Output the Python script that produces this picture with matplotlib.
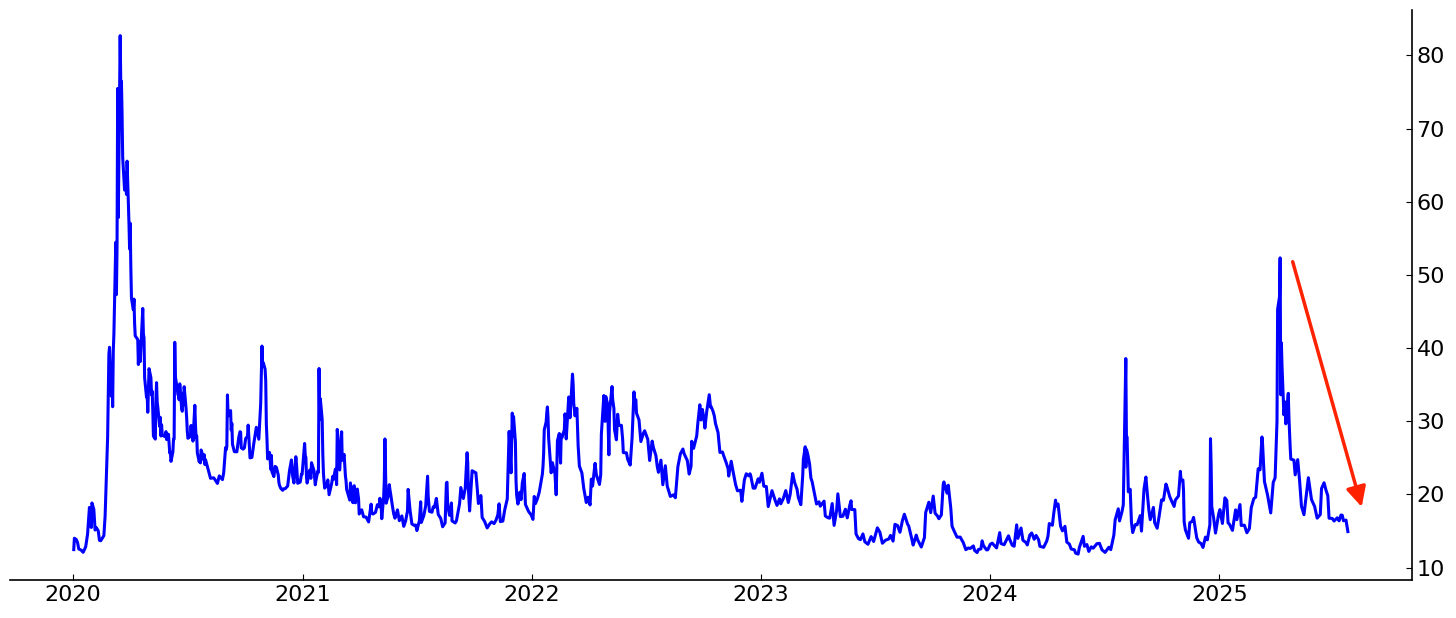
import pandas as pd
import matplotlib
matplotlib.use('Agg')
import matplotlib.pyplot as plt
import matplotlib.dates as mdates

d2020 = ['01-02','01-03','01-06','01-08','01-10','01-14','01-17','01-21','01-24','01-27','01-28','01-30','01-31',
         '02-03','02-05','02-07','02-10','02-12','02-14','02-19','02-21','02-24','02-25','02-27','02-28',
         '03-02','03-03','03-04','03-05','03-06','03-09','03-10','03-11','03-12','03-13','03-16','03-17','03-18',
         '03-19','03-20','03-23','03-24','03-25','03-26','03-27','03-30','03-31','04-01','04-02','04-03','04-06',
         '04-07','04-08','04-09','04-13','04-14','04-15','04-16','04-17','04-20','04-21','04-22','04-23','04-24',
         '04-27','04-28','04-29','04-30','05-01','05-04','05-05','05-06','05-07','05-08','05-11','05-12','05-13',
         '05-14','05-15','05-18','05-19','05-20','05-21','05-22','05-26','05-27','05-28','05-29','06-01','06-02',
         '06-03','06-04','06-05','06-08','06-09','06-10','06-11','06-12','06-15','06-16','06-17','06-18','06-19',
         '06-22','06-23','06-24','06-25','06-26','06-29','06-30','07-01','07-02','07-06','07-07','07-08','07-09',
         '07-10','07-13','07-14','07-15','07-16','07-17','07-20','07-21','07-22','07-23','07-24','07-27','07-28',
         '07-29','07-30','07-31','08-07','08-12','08-14','08-18','08-21','08-26','08-28','08-31','09-01','09-02',
         '09-03','09-04','09-08','09-09','09-10','09-11','09-14','09-18','09-21','09-23','09-24','09-25','09-28',
         '09-30','10-02','10-05','10-06','10-07','10-09','10-12','10-15','10-19','10-23','10-26','10-28','10-29',
         '10-30','11-02','11-03','11-04','11-05','11-06','11-09','11-10','11-11','11-12','11-13','11-16','11-18',
         '11-20','11-23','11-24','11-25','11-27','11-30','12-01','12-04','12-08','12-10','12-11','12-14','12-16',
         '12-18','12-21','12-22','12-24','12-28','12-30','12-31']
v2020 = [12.47,14.02,13.85,13.45,12.56,12.39,12.10,12.85,14.56,18.23,16.28,15.49,18.84,
         17.97,15.15,15.47,15.04,13.74,13.68,14.38,17.08,25.03,27.85,39.16,40.11,
         33.42,36.82,31.99,39.62,41.94,54.46,47.30,53.90,75.47,57.83,82.69,75.91,76.45,
         72.00,66.04,61.59,61.67,63.95,61.00,65.54,57.08,53.54,57.06,50.91,46.80,45.24,
         46.70,43.35,41.67,41.17,37.76,40.84,40.11,38.15,43.83,45.41,41.98,41.38,35.93,
         33.29,33.57,31.23,34.15,37.19,35.97,33.61,34.12,31.44,27.98,27.57,33.04,35.28,
         32.61,31.89,29.30,30.53,27.99,29.53,28.16,27.91,28.01,28.59,27.51,28.23,26.84,
         25.66,25.81,24.52,25.81,27.57,27.57,40.79,36.09,34.40,33.67,33.47,32.94,35.12,
         31.77,31.37,33.84,32.22,34.73,31.78,30.43,28.62,27.68,27.94,29.43,28.08,29.26,
         27.29,32.19,29.52,27.76,28.00,25.68,24.46,24.84,24.32,26.08,25.84,24.74,25.44,
         24.10,24.76,24.46,22.21,22.28,22.05,21.51,22.54,22.03,22.96,26.41,26.12,26.57,
         33.60,30.75,31.46,28.81,29.71,26.87,25.85,25.83,27.78,28.58,28.51,26.38,26.19,
         26.37,27.63,27.96,29.48,28.06,25.00,25.07,26.97,29.18,27.55,32.46,40.28,37.59,
         38.02,37.13,35.55,29.57,27.58,24.86,25.75,24.80,23.45,25.35,23.10,22.45,23.84,
         23.70,22.66,21.64,21.25,20.84,20.57,20.77,20.79,21.16,22.52,23.31,24.72,22.50,
         21.57,25.16,24.23,21.53,21.70,22.77,22.75]

d2021 = ['01-04','01-05','01-06','01-07','01-08','01-12','01-14','01-15','01-19','01-21','01-22','01-25','01-26',
         '01-27','01-28','01-29','02-01','02-02','02-03','02-04','02-05','02-08','02-10','02-12','02-16','02-18',
         '02-19','02-22','02-23','02-24','02-25','02-26','03-01','03-03','03-04','03-05','03-08','03-09','03-10',
         '03-11','03-12','03-15','03-17','03-18','03-19','03-22','03-23','03-24','03-25','03-26','03-29','03-31',
         '04-01','04-05','04-08','04-12','04-16','04-20','04-21','04-23','04-27','04-30','05-03','05-04','05-06',
         '05-07','05-10','05-11','05-12','05-13','05-14','05-17','05-19','05-20','05-21','05-24','05-26','05-28',
         '06-01','06-04','06-08','06-11','06-14','06-17','06-18','06-21','06-24','06-28','06-30','07-02','07-06',
         '07-08','07-09','07-13','07-16','07-19','07-20','07-22','07-26','07-28','07-30','08-02','08-05','08-09',
         '08-12','08-16','08-18','08-19','08-20','08-23','08-26','08-27','09-01','09-03','09-08','09-10','09-14',
         '09-17','09-20','09-21','09-22','09-24','09-28','09-30','10-04','10-06','10-08','10-12','10-14','10-18',
         '10-22','10-26','10-29','11-02','11-05','11-08','11-10','11-12','11-16','11-19','11-23','11-26','11-29',
         '11-30','12-01','12-02','12-03','12-06','12-07','12-08','12-10','12-13','12-15','12-17','12-20','12-22',
         '12-27','12-31']
v2021 = [26.97,25.34,25.07,22.37,21.56,23.33,22.21,24.34,23.24,21.32,21.91,23.19,23.02,
         37.21,30.21,33.09,30.24,25.56,22.91,21.77,20.87,21.24,21.99,19.97,21.46,22.49,
         22.05,23.45,23.11,21.34,28.89,27.95,23.35,26.67,28.57,24.66,25.47,24.03,22.56,
         21.91,20.69,19.79,19.23,21.58,20.95,18.88,20.30,21.20,19.81,18.86,20.74,19.40,
         17.33,17.91,16.95,16.91,16.25,18.68,17.50,17.33,17.56,18.61,18.31,19.48,18.39,
         16.69,19.66,21.84,27.59,23.13,18.81,19.72,21.34,20.67,20.15,18.40,17.36,16.76,
         17.90,16.42,17.07,15.65,16.39,17.75,20.70,17.89,15.97,15.76,15.83,15.07,16.44,
         19.00,16.18,17.12,18.45,22.50,19.73,17.69,17.58,18.31,18.24,19.46,17.28,16.72,
         15.59,16.12,21.57,21.67,18.56,17.15,18.84,16.39,16.11,16.41,18.75,20.95,19.46,
         20.81,25.71,24.36,20.87,17.75,23.25,23.14,22.96,21.00,18.77,19.85,16.86,16.30,
         15.43,15.98,16.26,16.03,16.48,17.22,18.73,16.29,16.37,17.91,19.38,28.62,22.96,
         27.19,31.12,27.95,30.67,27.18,21.89,19.90,18.69,20.31,19.29,21.57,22.87,18.63,
         17.68,17.22]

d2022 = ['01-03','01-05','01-07','01-10','01-13','01-18','01-19','01-20','01-21','01-24','01-25','01-26','01-27',
         '01-28','02-01','02-03','02-07','02-09','02-10','02-11','02-14','02-16','02-17','02-18','02-22','02-23',
         '02-24','02-25','03-01','03-03','03-04','03-07','03-08','03-09','03-11','03-14','03-16','03-18','03-22',
         '03-25','03-29','04-01','04-04','04-06','04-08','04-12','04-14','04-19','04-21','04-22','04-26','04-27',
         '04-28','04-29','05-02','05-04','05-05','05-09','05-10','05-12','05-13','05-16','05-18','05-20','05-24',
         '05-26','05-27','06-01','06-03','06-07','06-10','06-13','06-14','06-16','06-17','06-21','06-24','06-28',
         '06-30','07-05','07-08','07-12','07-14','07-18','07-20','07-22','07-26','07-29','08-02','08-05','08-10',
         '08-15','08-18','08-22','08-26','08-30','09-01','09-06','09-09','09-12','09-13','09-16','09-21','09-23',
         '09-26','09-28','09-30','10-03','10-04','10-07','10-11','10-13','10-14','10-17','10-19','10-21','10-25',
         '10-28','11-01','11-03','11-07','11-10','11-11','11-15','11-18','11-22','11-25','11-30','12-02','12-06',
         '12-09','12-13','12-15','12-16','12-20','12-23','12-28','12-30']
v2022 = [16.60,19.73,18.76,19.40,20.31,22.79,23.85,25.59,28.85,29.90,31.16,31.96,30.49,
         27.66,22.96,24.35,22.86,19.96,23.91,27.36,28.33,24.29,28.11,27.75,28.81,31.02,
         30.32,27.59,33.32,30.48,31.98,36.45,35.13,32.45,30.75,31.77,26.67,23.87,22.94,
         20.81,18.90,19.63,18.57,22.10,21.16,24.26,22.70,21.37,22.68,28.21,33.52,31.60,
         29.99,33.40,32.34,25.42,31.20,34.75,32.99,31.77,28.87,27.47,30.96,29.43,29.45,
         27.50,25.72,25.69,24.79,24.02,27.75,34.02,32.69,32.95,31.13,30.19,27.23,28.36,
         28.71,27.54,24.64,27.29,26.40,25.30,23.88,23.03,24.69,21.33,23.93,21.15,19.74,
         19.95,19.56,23.80,25.56,26.21,25.56,24.64,22.79,23.87,27.27,26.30,27.99,29.92,
         32.26,30.18,31.62,30.10,29.07,31.36,33.63,31.94,32.02,31.37,30.76,29.69,28.46,
         25.75,25.81,25.30,24.35,23.53,22.52,24.54,23.12,21.35,20.50,20.58,19.06,22.00,
         22.83,22.55,22.83,22.62,20.87,20.87,22.14,21.67]

d2023 = ['01-03','01-06','01-10','01-13','01-19','01-24','01-27','01-31','02-02','02-06','02-10','02-14','02-17',
         '02-21','02-24','02-28','03-02','03-06','03-09','03-10','03-13','03-14','03-15','03-17','03-20','03-22',
         '03-24','03-28','03-31','04-04','04-06','04-12','04-14','04-18','04-21','04-25','04-28','05-02','05-04',
         '05-08','05-12','05-16','05-19','05-23','05-25','05-26','05-31','06-02','06-06','06-09','06-13','06-16',
         '06-21','06-26','06-30','07-06','07-10','07-14','07-19','07-24','07-27','07-31','08-03','08-07','08-11',
         '08-15','08-18','08-23','08-25','08-30','09-01','09-06','09-08','09-14','09-19','09-21','09-26','09-29',
         '10-03','10-06','10-10','10-12','10-16','10-19','10-20','10-25','10-27','10-31','11-02','11-06','11-10',
         '11-15','11-20','11-24','11-28','12-01','12-06','12-08','12-12','12-14','12-18','12-20','12-22','12-27',
         '12-29']
v2023 = [22.90,21.13,21.09,18.35,20.52,19.20,18.51,19.40,18.73,19.43,20.53,18.91,20.02,
         22.87,21.67,20.70,19.59,18.61,22.61,24.80,26.52,23.73,26.14,25.51,24.12,22.26,
         21.74,19.97,18.70,19.00,18.40,19.09,17.07,16.83,16.77,18.76,15.78,17.78,20.09,
         16.98,17.03,17.99,16.81,18.53,19.14,17.95,17.94,14.60,13.96,13.83,14.61,13.54,
         13.20,14.25,13.59,15.44,14.84,13.34,13.76,13.91,14.41,13.63,15.92,15.77,14.84,
         16.46,17.30,15.98,15.68,13.88,13.09,14.45,13.84,12.82,14.11,17.54,18.94,17.52,
         19.78,17.45,17.03,16.69,17.21,21.40,21.71,20.19,21.27,18.14,15.66,14.89,14.17,
         14.18,13.41,12.46,12.69,12.63,12.97,12.35,12.07,12.48,12.56,13.67,13.03,12.43,
         12.45]

d2024 = ['01-02','01-05','01-08','01-12','01-17','01-19','01-24','01-31','02-02','02-06','02-09','02-13','02-15',
         '02-20','02-23','02-28','03-01','03-05','03-08','03-12','03-15','03-19','03-21','03-27','04-01','04-03',
         '04-05','04-10','04-12','04-15','04-16','04-19','04-23','04-26','04-30','05-03','05-07','05-10','05-15',
         '05-17','05-21','05-23','05-29','05-31','06-04','06-07','06-11','06-14','06-20','06-24','06-28','07-03','07-09',
         '07-12','07-17','07-19','07-24','07-26','07-30','08-01','08-02','08-05','08-06','08-07','08-08','08-09',
         '08-12','08-14','08-16','08-20','08-23','08-28','08-30','09-03','09-06','09-09','09-11','09-13','09-18',
         '09-20','09-24','09-27','10-01','10-04','10-08','10-10','10-14','10-17','10-21','10-23','10-28','10-31',
         '11-01','11-04','11-05','11-06','11-08','11-13','11-15','11-19','11-21','11-26','11-29','12-03','12-06',
         '12-10','12-13','12-17','12-18','12-19','12-20','12-23','12-26','12-31']
v2024 = [13.20,13.35,13.08,12.70,14.79,13.30,13.14,14.35,13.85,13.06,12.93,15.85,14.01,
         15.42,13.75,13.43,13.11,14.46,14.74,13.88,14.41,13.82,12.92,12.78,13.65,14.33,
         16.03,15.80,17.31,19.23,18.40,18.71,15.69,15.03,15.65,13.49,13.23,12.55,12.45,
         11.99,11.86,12.77,14.28,12.92,13.16,12.22,12.85,12.66,13.28,13.33,12.44,12.09,12.79,
         12.46,14.48,16.52,18.04,16.39,17.69,18.59,23.39,38.57,27.71,27.85,23.79,20.37,
         20.71,16.19,14.80,15.88,15.86,17.11,15.00,20.72,22.38,19.45,17.69,16.56,18.23,
         16.15,15.39,16.96,19.26,19.21,21.42,20.93,19.70,19.11,18.37,19.24,19.80,23.16,
         21.88,21.98,20.49,16.27,15.16,14.02,16.14,16.35,16.87,14.10,13.51,13.30,12.77,
         14.18,13.81,15.87,27.62,24.09,18.36,16.78,14.73,17.35]

d2025 = ['01-02','01-06','01-10','01-13','01-15','01-17','01-22','01-27','01-29','02-03','02-05','02-10','02-14',
         '02-18','02-21','02-25','02-28','03-04','03-07','03-10','03-11','03-14','03-19','03-24','03-28','03-31',
         '04-03','04-04','04-07','04-08','04-09','04-10','04-11','04-14','04-16','04-17','04-21','04-22','04-24',
         '04-25','04-30','05-02','05-06','05-09','05-12','05-16','05-21','05-23','05-28','06-02','06-06','06-11',
         '06-13','06-17','06-20','06-23','06-25','06-30','07-03','07-08','07-11','07-14','07-16','07-18','07-22',
         '07-25']
v2025 = [17.93,16.04,19.54,19.19,16.12,15.97,15.10,17.90,16.56,18.62,15.77,15.81,14.77,
         15.35,18.21,19.43,19.63,23.51,23.37,27.86,26.92,21.77,19.90,17.48,21.65,22.28,
         30.02,45.31,46.98,52.33,33.62,40.72,37.56,30.89,32.64,29.65,33.82,30.57,26.47,
         24.84,24.70,22.68,24.76,21.90,18.39,17.24,20.87,22.29,19.31,18.36,16.77,17.26,
         20.82,21.60,20.62,19.83,16.76,16.73,16.38,16.81,16.40,17.20,17.16,16.41,16.50,
         14.93]

# arrow showing the drop after the April 2025 spike
arrow_start = ('2025-04-28', 51.8)
arrow_end = ('2025-08-16', 18.3)

dates = []
values = []
for year, dd, vv in [(2020, d2020, v2020), (2021, d2021, v2021), (2022, d2022, v2022),
                     (2023, d2023, v2023), (2024, d2024, v2024), (2025, d2025, v2025)]:
    dates += [f'{year}-{d}' for d in dd]
    values += vv
df = pd.DataFrame({'date': pd.to_datetime(dates), 'vix': values})

fig = plt.figure(figsize=(14.56, 6.18), dpi=100)
ax = fig.add_axes([0.0069, 0.0615, 0.9626, 0.9228])
ax.plot(df['date'], df['vix'], color='#0000ff', lw=2.2)

ax.annotate('', xy=(pd.Timestamp(arrow_end[0]), arrow_end[1]),
            xytext=(pd.Timestamp(arrow_start[0]), arrow_start[1]),
            arrowprops=dict(arrowstyle='-|>', color='#ff2200', lw=2.5, mutation_scale=30,
                            shrinkA=0, shrinkB=0))

ax.spines['top'].set_visible(False)
ax.spines['left'].set_visible(False)
ax.spines['right'].set_linewidth(1.2)
ax.spines['bottom'].set_linewidth(1.2)
ax.yaxis.tick_right()
ax.set_yticks([10, 20, 30, 40, 50, 60, 70, 80])
ax.xaxis.set_major_locator(mdates.YearLocator())
ax.xaxis.set_major_formatter(mdates.DateFormatter('%Y'))
ax.tick_params(axis='both', direction='in', labelsize=16, length=4.5)

fig.savefig('out.png', dpi=100)
